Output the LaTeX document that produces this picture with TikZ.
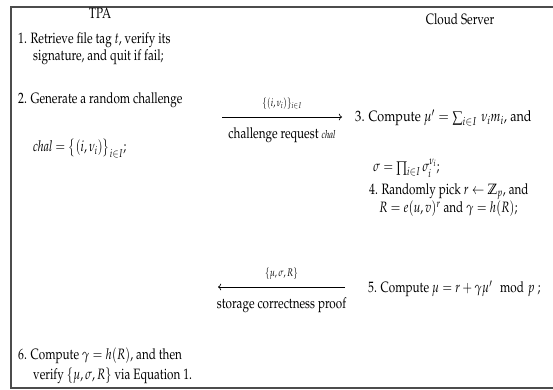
\documentclass[tikz,border=0pt]{standalone}
\usepackage[T1]{fontenc}
\usepackage{amsmath,amssymb}
\usepackage{mathpazo}
\usepackage{graphicx}
\usepackage{tikz}
\usetikzlibrary{arrows.meta}
\newcommand{\squeeze}[1]{\scalebox{0.78}[1]{#1}}
\tikzset{
  head/.style={
    inner sep=0pt,
    font=\fontsize{15}{18}\selectfont
  },
  step text/.style={
    anchor=west,
    inner sep=0pt,
    font=\fontsize{15}{18}\selectfont
  },
  msg label/.style={
    inner sep=0pt,
    font=\fontsize{11}{13}\selectfont
  },
  msg arrow/.style={
    ->,
    line width=0.7pt
  },
  frame line/.style={
    draw=black!70,
    line width=1.2pt
  }
}
\begin{document}
\begin{tikzpicture}[x=1pt, y=-1pt]
  \useasboundingbox (0,0) rectangle (553,390);

  % frame, open on the right
  \draw[frame line] (553,7) -- (11,7) -- (11,388) -- (553,388);

  % column headings
  \node[head] (tpa) at (100,13) {\squeeze{TPA}};
  \node[head] (cs) at (460,19) {\squeeze{Cloud Server}};

  % TPA steps
  \node[step text] (s1a) at (18,40) {\squeeze{1. Retrieve file tag $t$, verify its}};
  \node[step text] (s1b) at (33,57) {\squeeze{signature, and quit if fail;}};
  \node[step text] (s2a) at (18,100) {\squeeze{2. Generate a random challenge}};
  \node[step text] (s2b) at (33,148) {\squeeze{$\mathit{chal}=\big\{(i,\nu_i)\big\}_{i\in I}$;}};
  \node[step text] (s6a) at (18,355.5) {\squeeze{6. Compute $\gamma=h(R)$, and then}};
  \node[step text] (s6b) at (33,376) {\squeeze{verify $\{\mu,\sigma,R\}$ via Equation 1.}};

  % server steps
  \node[step text] (s3a) at (355,118) {\scalebox{0.84}[1]{3. Compute $\mu'=\sum\nolimits_{i\in I}\,\nu_i m_i$, and}};
  \node[step text] (s3b) at (373,168) {\squeeze{$\sigma=\prod_{i\in I}\sigma_i^{\nu_i}$;}};
  \node[step text] (s4a) at (369,192) {\squeeze{4. Randomly pick $r\leftarrow\mathbb{Z}_p$, and}};
  \node[step text] (s4b) at (379,209) {\squeeze{$R=e(u,v)^r$ and $\gamma=h(R)$;}};
  \node[step text] (s5) at (368,289) {\squeeze{5. Compute $\mu=r+\gamma\mu'\mod p$ ;}};

  % messages
  \coordinate (m1s) at (222,117);
  \coordinate (m1e) at (342,117);
  \draw[msg arrow] (m1s) -- node[msg label, above=7pt] {\squeeze{$\{(i,\nu_i)\}_{i\in I}$}}
    node[step text, anchor=center, below=10pt] {\squeeze{challenge request {\fontsize{11}{13}\selectfont$\mathit{chal}$}}} (m1e);

  \coordinate (m2s) at (345,287);
  \coordinate (m2e) at (218,287);
  \draw[msg arrow] (m2s) -- node[msg label, above=7pt] {\squeeze{$\{\mu,\sigma,R\}$}}
    node[step text, anchor=center, below=10pt] {\squeeze{storage correctness proof}} (m2e);

\end{tikzpicture}
\end{document}
